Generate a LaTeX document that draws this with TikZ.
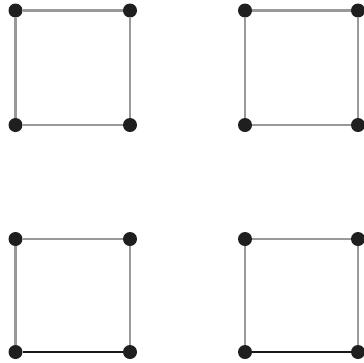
\documentclass[tikz,border=0pt]{standalone}
\begin{document}
\begin{tikzpicture}[x=0.75pt,y=-0.75pt,
  vtx/.style={circle,fill=black!88,inner sep=0pt,minimum size=14*0.75pt},
  gedge/.style={draw=black!40,line width=1.6pt},
  bedge/.style={draw=black!90,line width=1.1pt}]
\useasboundingbox (0,0) rectangle (364,362);
% top-left
\node[vtx] (a1) at (15.5,10.5) {};
\node[vtx] (a2) at (130,10.5) {};
\node[vtx] (a3) at (15.5,125) {};
\node[vtx] (a4) at (130,125) {};
% top-right
\node[vtx] (b1) at (245,10.5) {};
\node[vtx] (b2) at (358,10.5) {};
\node[vtx] (b3) at (245,125) {};
\node[vtx] (b4) at (358,125) {};
% bottom-left
\node[vtx] (c1) at (15.5,239) {};
\node[vtx] (c2) at (130,239) {};
\node[vtx] (c3) at (15.5,352) {};
\node[vtx] (c4) at (130,352) {};
% bottom-right
\node[vtx] (d1) at (245,239) {};
\node[vtx] (d2) at (358,239) {};
\node[vtx] (d3) at (245,352) {};
\node[vtx] (d4) at (358,352) {};
\path[gedge] (a1) -- (a2) -- (a4) -- (a3) -- (a1);
\path[gedge] (b1) -- (b2) -- (b4) -- (b3) -- (b1);
\path[gedge] (c3) -- (c1) -- (c2) -- (c4);
\path[bedge] (c3) -- (c4);
\path[gedge] (d3) -- (d1) -- (d2) -- (d4);
\path[bedge] (d3) -- (d4);
\end{tikzpicture}
\end{document}
